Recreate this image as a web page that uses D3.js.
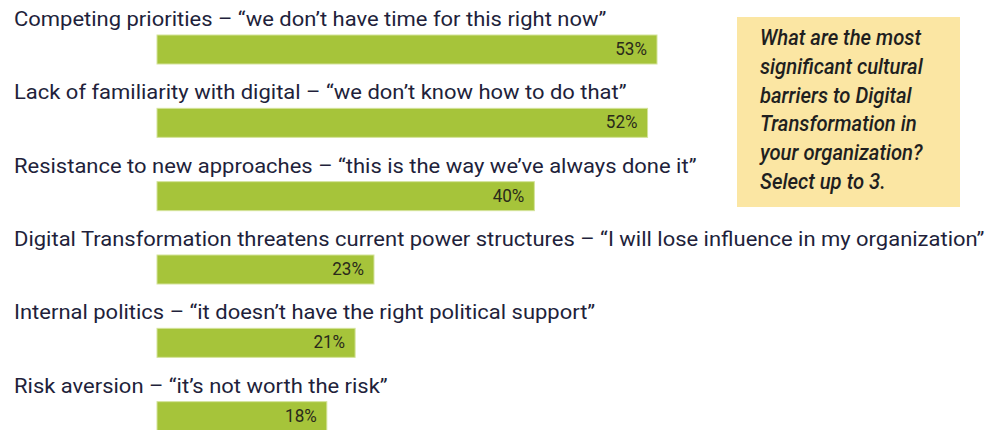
<!DOCTYPE html>
<html>
<head>
<meta charset="utf-8">
<script src="https://cdn.jsdelivr.net/npm/d3@7"></script>
<style>
  body { margin: 0; background: #fff; }
  svg { display: block; }
</style>
</head>
<body>
<svg id="chart" width="992" height="430"></svg>
<script>
// data
const categories = [
  'Competing priorities \u2013 \u201cwe don\u2019t have time for this right now\u201d',
  'Lack of familiarity with digital \u2013 \u201cwe don\u2019t know how to do that\u201d',
  'Resistance to new approaches \u2013 \u201cthis is the way we\u2019ve always done it\u201d',
  'Digital Transformation threatens current power structures \u2013 \u201cI will lose influence in my organization\u201d',
  'Internal politics \u2013 \u201cit doesn\u2019t have the right political support\u201d',
  'Risk aversion \u2013 \u201cit\u2019s not worth the risk\u201d'
];
const values = [53, 52, 40, 23, 21, 18];
const questionLines = [
  'What are the most',
  'significant cultural',
  'barriers to Digital',
  'Transformation in',
  'your organization?',
  'Select up to 3.'
];

const FONT = 'Roboto, "Liberation Sans", sans-serif';
const svg = d3.select('#chart');

const barLeft = 157;
const x = d3.scaleLinear().domain([0, 53]).range([barLeft, 657]);
const y = d3.scaleBand().domain(d3.range(categories.length)).range([0, 440]);
const barTop = 35, barH = 29;

const rows = svg.selectAll('g.row').data(categories).join('g')
  .attr('class', 'row')
  .attr('transform', (d, i) => `translate(0,${y(i)})`);

// category labels -- the source face is condensed, so squeeze horizontally
const labels = rows.append('text')
  .attr('font-family', FONT)
  .attr('font-size', 21)
  .attr('fill', '#221f3b')
  .text(d => d);

let longest = 0;
labels.each(function() { longest = Math.max(longest, this.getComputedTextLength()); });
const sx = longest > 0 ? 971 / longest : 1;   // longest line runs 14 -> 985
labels.attr('transform', `translate(14,26) scale(${sx},1)`);

// bars
rows.append('rect')
  .attr('x', barLeft)
  .attr('y', barTop)
  .attr('width', (d, i) => x(values[i]) - barLeft)
  .attr('height', barH)
  .attr('fill', '#a6c43a')
  .attr('stroke', '#d4e39a')
  .attr('stroke-width', 1);

// value labels
rows.append('text')
  .attr('transform', (d, i) => `translate(${x(values[i]) - 10},${barTop + 20}) scale(0.95,1)`)
  .attr('text-anchor', 'end')
  .attr('font-family', FONT)
  .attr('font-size', 18)
  .attr('fill', '#2a2a1a')
  .text((d, i) => values[i] + '%');

// question box
const box = svg.append('g');
box.append('rect')
  .attr('x', 737).attr('y', 17)
  .attr('width', 223).attr('height', 190)
  .attr('fill', '#fbe6a3');
box.selectAll('text').data(questionLines).join('text')
  .attr('transform', (d, i) => `translate(760,${45 + i * 28.8}) scale(0.9,1)`)
  .attr('font-family', FONT)
  .attr('font-size', 22.5)
  .attr('font-style', 'italic')
  .attr('font-weight', 500)
  .attr('fill', '#1f1f1f')
  .text(d => d);
</script>
</body>
</html>
